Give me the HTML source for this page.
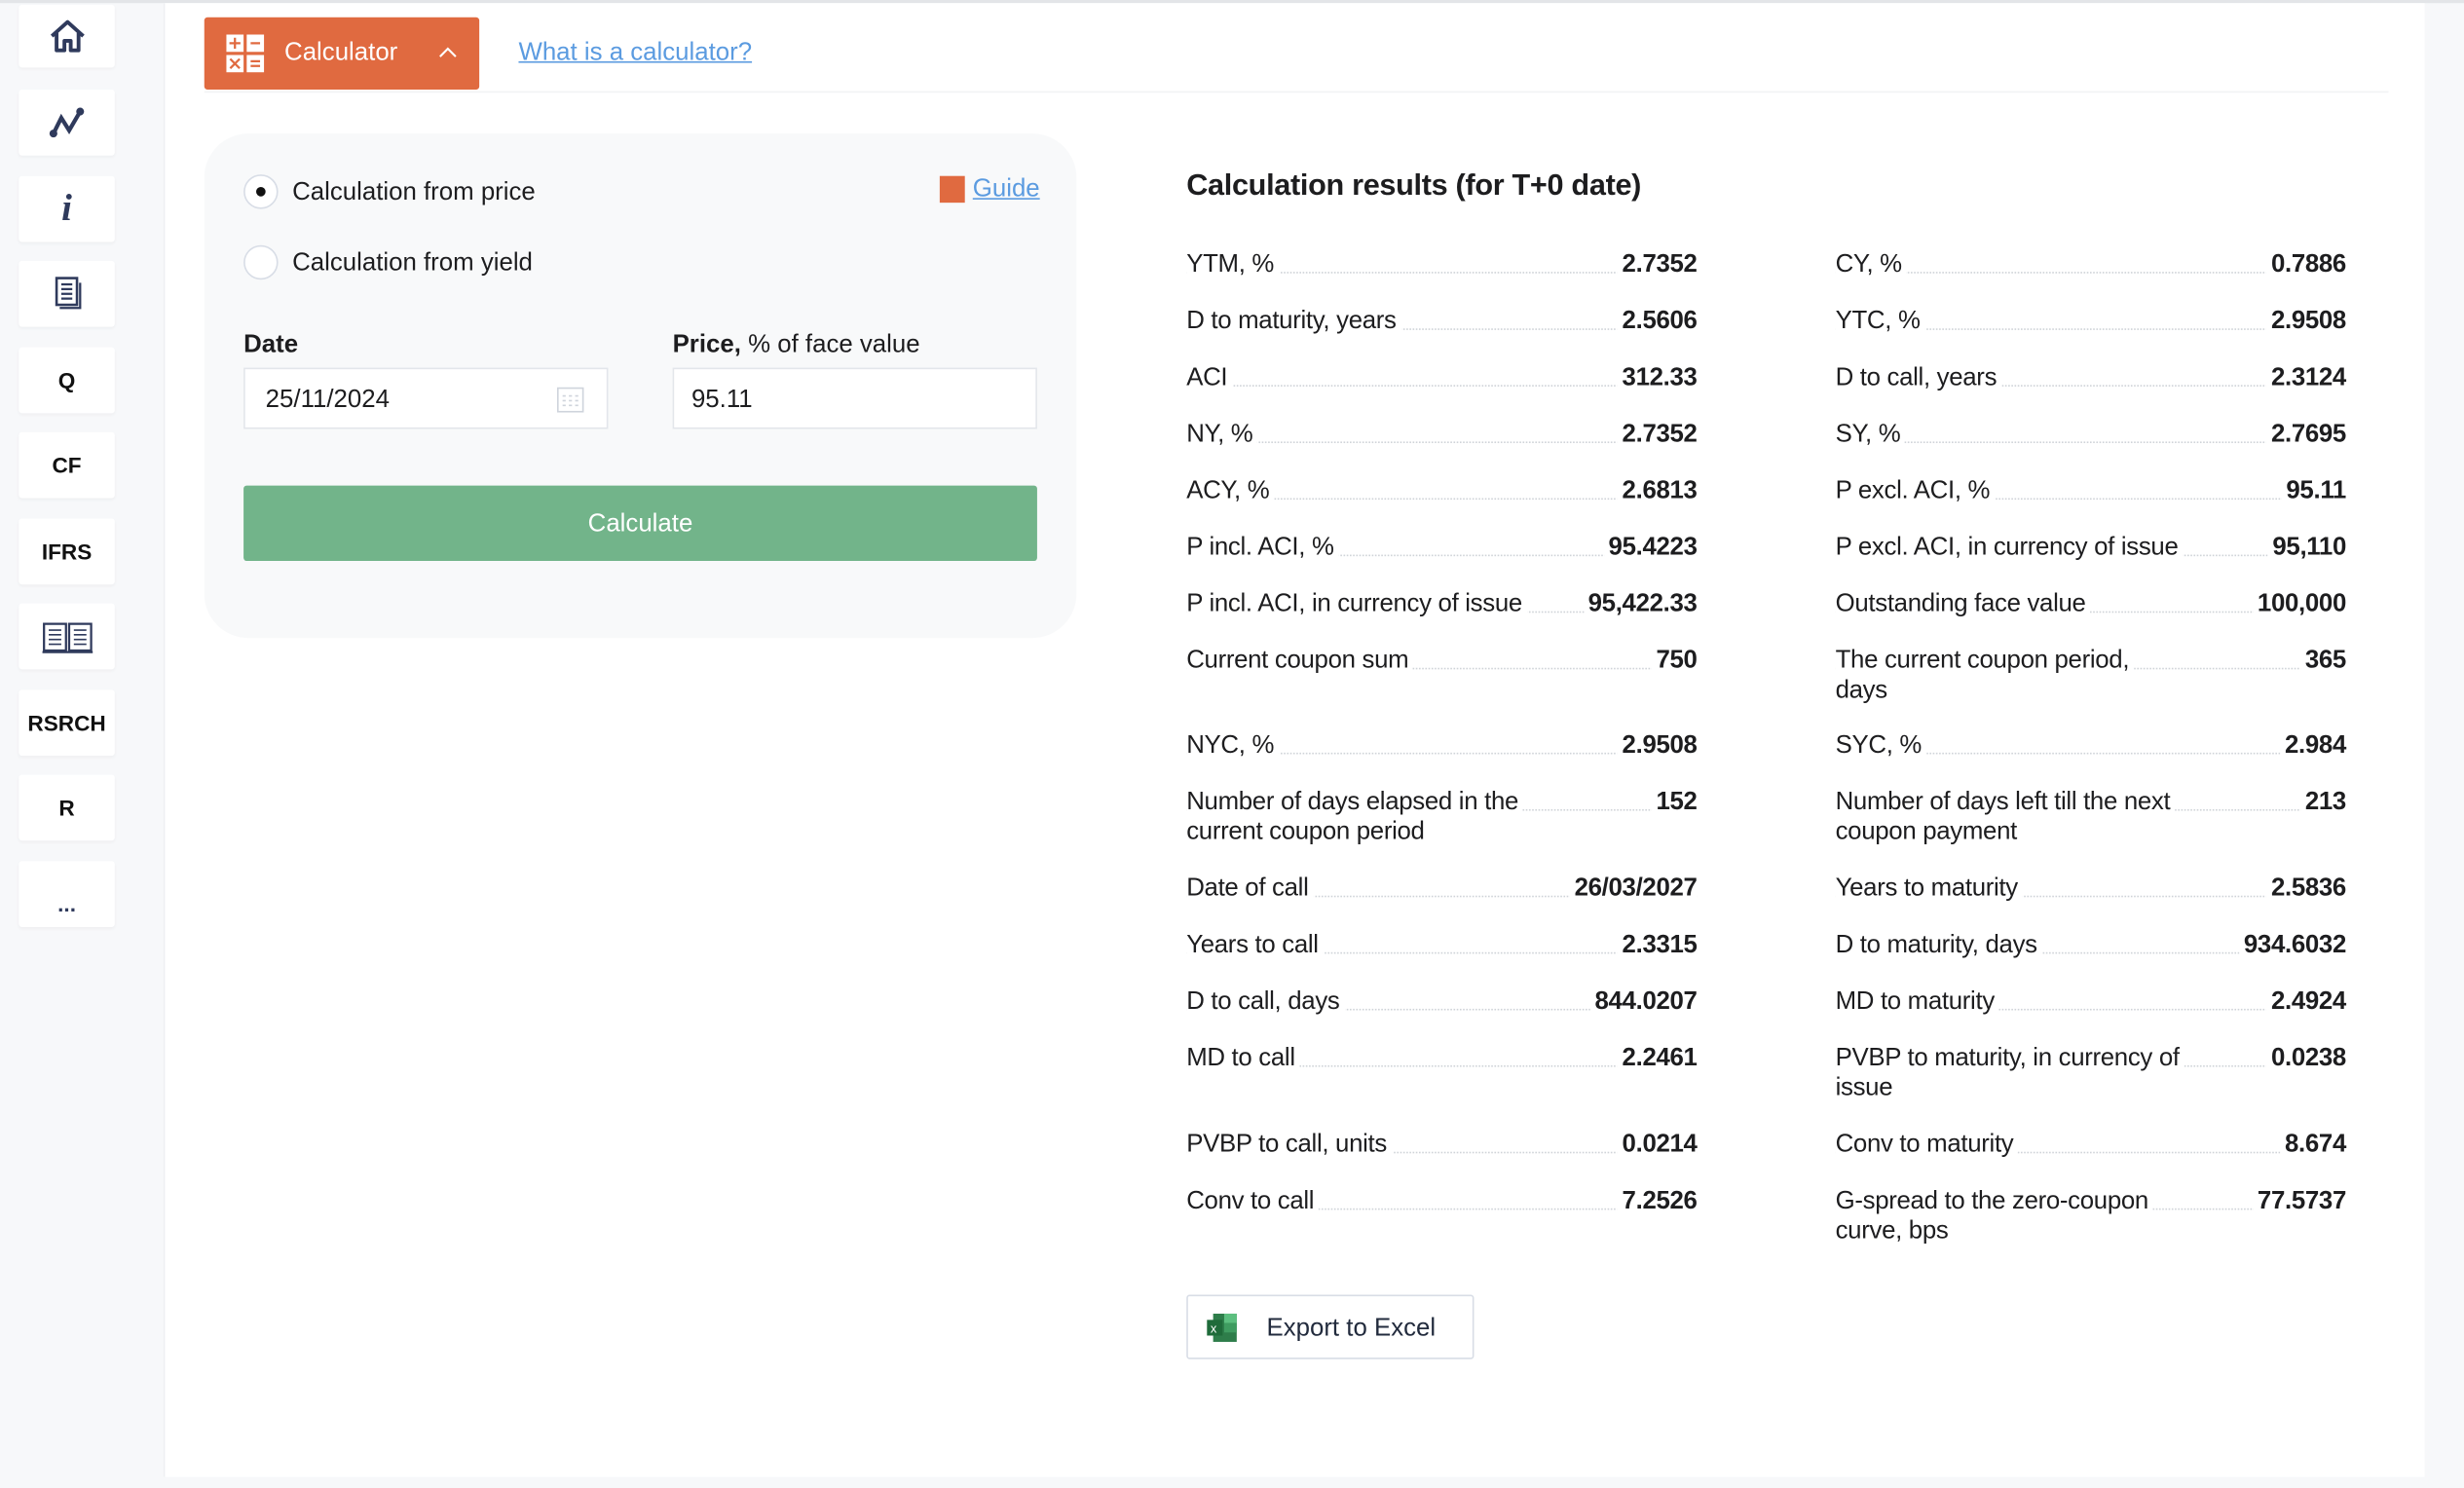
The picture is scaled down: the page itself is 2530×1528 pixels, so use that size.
<!DOCTYPE html>
<html><head><meta charset="utf-8">
<style>
html,body{margin:0;padding:0;width:2530px;height:1528px;overflow:hidden;background:#f7f8fa;}
#s{position:absolute;left:0;top:0;width:1568px;height:947px;transform:scale(1.61352);transform-origin:0 0;font-family:"Liberation Sans",sans-serif;color:#1d1d1f;}
.a{position:absolute}
.sb{position:absolute;left:12px;width:61px;height:42px;background:#fff;border-radius:2px;box-shadow:0 1px 2px rgba(0,0,0,.04);display:flex;align-items:center;justify-content:center;font-weight:bold;font-size:14px;color:#111;}
.row{position:absolute;width:325px;font-size:16px;line-height:19px;letter-spacing:-0.2px;}
.row .l{position:absolute;left:0;top:0;background:#fff;padding-right:3px;}
.row .v{position:absolute;right:0;top:0;font-weight:bold;background:#fff;padding-left:3px;}
.row .d{position:absolute;left:0;right:0;top:14px;border-bottom:1px dotted #cfd3d8;}
</style></head><body>
<div id="s">
<div class="a" style="left:0;top:0;width:1568px;height:2px;background:#e3e5e8"></div>
<div class="a" style="left:104px;top:2px;width:1439px;height:938px;background:#fff"></div>
<div class="a" style="left:104px;top:2px;width:1px;height:938px;background:#eef0f3"></div>

<div class="sb" style="top:3px;height:40px"><svg width="26" height="24" viewBox="0 0 26 24"><path d="M3 12 L13 3 L23 12 M6 10 V21 H11 V15 H15 V21 H20 V10" fill="none" stroke="#2f3a5c" stroke-width="2.4" stroke-linejoin="round"/></svg></div>
<div class="sb" style="top:57px"><svg width="26" height="24" viewBox="0 0 26 24"><path d="M4 19 L9 9 L14 17 L21 5" fill="none" stroke="#2f3a5c" stroke-width="2.6"/><circle cx="4" cy="19" r="2.5" fill="#2f3a5c"/><circle cx="21" cy="5" r="2.5" fill="#2f3a5c"/></svg></div>
<div class="sb" style="top:112px;font-family:'Liberation Serif',serif;font-size:24px;font-style:italic;color:#2f3a5c">i</div>
<div class="sb" style="top:166px"><svg width="20" height="24" viewBox="0 0 20 24"><rect x="3" y="2" width="13" height="17" fill="none" stroke="#2f3a5c" stroke-width="1.6"/><path d="M6 6h7M6 9h7M6 12h7M6 15h7M5 21h13V5" fill="none" stroke="#2f3a5c" stroke-width="1.4"/></svg></div>
<div class="sb" style="top:221px">Q</div>
<div class="sb" style="top:275px">CF</div>
<div class="sb" style="top:330px">IFRS</div>
<div class="sb" style="top:384px"><svg width="34" height="24" viewBox="0 0 34 24"><path d="M2 4h14v17H2zM18 4h14v17H18z M1 22h32" fill="none" stroke="#2f3a5c" stroke-width="1.4"/><path d="M5 8h8M5 11h8M5 14h8M5 17h8M21 8h8M21 11h8M21 14h8M21 17h8" stroke="#2f3a5c" stroke-width="1"/></svg></div>
<div class="sb" style="top:439px">RSRCH</div>
<div class="sb" style="top:493px">R</div>
<div class="sb" style="top:548px;color:#2f3a5c;padding-top:12px;box-sizing:border-box">...</div>

<div class="a" style="left:130px;top:11px;width:175px;height:46px;background:#e06a40;border-radius:2px;color:#fff;font-size:16px">
 <svg class="a" style="left:14px;top:11px" width="25" height="25" viewBox="0 0 25 25"><rect x="0" y="0" width="11" height="11" fill="#fff"/><rect x="13" y="0" width="11" height="11" fill="#fff"/><rect x="0" y="13" width="11" height="11" fill="#fff"/><rect x="13" y="13" width="11" height="11" fill="#fff"/><path d="M5.5 2v7M2 5.5h7M15.5 5.5h6M2.5 15.5l6 6M8.5 15.5l-6 6M15.5 17h6M15.5 20h6" stroke="#e06a40" stroke-width="1.4"/></svg>
 <span class="a" style="left:51px;top:14px">Calculator</span>
 <svg class="a" style="left:149px;top:18px" width="12" height="8" viewBox="0 0 12 8"><path d="M1 7L6 2L11 7" fill="none" stroke="#fff" stroke-width="1.3"/></svg>
</div>
<span class="a" style="left:330px;top:25px;font-size:16px;color:#5b9be0;text-decoration:underline">What is a calculator?</span>
<div class="a" style="left:130px;top:58px;width:1390px;height:1px;background:#f2f3f5"></div>

<div class="a" style="left:130px;top:85px;width:555px;height:321px;background:#f8f9fa;border-radius:28px"></div>
<div class="a" style="left:155px;top:111px;width:22px;height:22px;border:1px solid #d8dde6;border-radius:50%;background:#fff;box-sizing:border-box"><div class="a" style="left:7px;top:7px;width:6px;height:6px;border-radius:50%;background:#111"></div></div>
<span class="a" style="left:186px;top:114px;font-size:16px">Calculation from price</span>
<div class="a" style="left:155px;top:156px;width:22px;height:22px;border:1px solid #d8dde6;border-radius:50%;background:#fff;box-sizing:border-box"></div>
<span class="a" style="left:186px;top:159px;font-size:16px">Calculation from yield</span>
<div class="a" style="left:598px;top:112px;width:16px;height:17px;background:#e06a40"></div>
<span class="a" style="left:619px;top:112px;font-size:16px;color:#5b9be0;text-decoration:underline">Guide</span>
<span class="a" style="left:155px;top:211px;font-size:16px;font-weight:bold">Date</span>
<span class="a" style="left:428px;top:211px;font-size:16px"><b>Price,</b> % of face value</span>
<div class="a" style="left:155px;top:234px;width:232px;height:39px;background:#fff;border:1px solid #e3e6eb;box-sizing:border-box"><span class="a" style="left:13px;top:11px;font-size:16px">25/11/2024</span>
<svg class="a" style="left:198px;top:10px" width="18" height="18" viewBox="0 0 18 18"><rect x="1" y="2" width="16" height="15" fill="none" stroke="#cfd4dc"/><path d="M4 7h2M8 7h2M12 7h2M4 10h2M8 10h2M12 10h2M4 13h2M8 13h2M12 13h2" stroke="#cfd4dc"/></svg></div>
<div class="a" style="left:428px;top:234px;width:232px;height:39px;background:#fff;border:1px solid #e3e6eb;box-sizing:border-box"><span class="a" style="left:11px;top:11px;font-size:16px">95.11</span></div>
<div class="a" style="left:155px;top:309px;width:505px;height:48px;background:#72b48a;border-radius:2px;color:#fff;font-size:16px;text-align:center;line-height:50px">Calculate</div>

<span class="a" style="left:755px;top:108px;font-size:19px;font-weight:bold;letter-spacing:-0.2px">Calculation results (for T+0 date)</span>

<div id="rows"></div>

<div class="a" style="left:755px;top:824px;width:183px;height:41px;border:1px solid #d8dde6;border-radius:2px;box-sizing:border-box;background:#fff">
 <svg class="a" style="left:12px;top:11px" width="20" height="18" viewBox="0 0 20 18"><rect x="4" y="0" width="15" height="18" fill="#2e7d4a"/><rect x="11" y="0" width="8" height="6" fill="#5cbf7f"/><rect x="11" y="6" width="8" height="6" fill="#3f9c60"/><rect x="0" y="4" width="10" height="10" fill="#1f6b3a"/><text x="2.3" y="12" font-size="8" fill="#fff" font-family="Liberation Sans">x</text></svg>
 <span class="a" style="left:50px;top:12px;font-size:16px;color:#222b3d">Export to Excel</span>
</div>
</div>
<script>
const leftLabels=["YTM, %","D to maturity, years","ACI","NY, %","ACY, %","P incl. ACI, %","P incl. ACI, in currency of issue","Current coupon sum","NYC, %","Number of days elapsed in the<br>current coupon period","Date of call","Years to call","D to call, days","MD to call","PVBP to call, units","Conv to call"];
const leftValues=["2.7352","2.5606","312.33","2.7352","2.6813","95.4223","95,422.33","750","2.9508","152","26/03/2027","2.3315","844.0207","2.2461","0.0214","7.2526"];
const rightLabels=["CY, %","YTC, %","D to call, years","SY, %","P excl. ACI, %","P excl. ACI, in currency of issue","Outstanding face value","The current coupon period,<br>days","SYC, %","Number of days left till the next<br>coupon payment","Years to maturity","D to maturity, days","MD to maturity","PVBP to maturity, in currency of<br>issue","Conv to maturity","G-spread to the zero-coupon<br>curve, bps"];
const rightValues=["0.7886","2.9508","2.3124","2.7695","95.11","95,110","100,000","365","2.984","213","2.5836","934.6032","2.4924","0.0238","8.674","77.5737"];
const rowTops=[159,195,231,267,303,339,375,411,465,501,556,592,628,664,719,755];
const c=document.getElementById('rows');
function add(x,lab,val,t,side,i){
 const r=document.createElement('div');
 
 
 r.className='row';r.style.left=x+'px';r.style.top=t+'px';
 r.innerHTML='<div class="d"></div><span class="l">'+lab+'</span><span class="v">'+val+'</span>';
 c.parentNode.appendChild(r);
}
for(let i=0;i<16;i++){add(755,leftLabels[i],leftValues[i],rowTops[i],'left',i);add(1168,rightLabels[i],rightValues[i],rowTops[i],'right',i);}
</script>
</body></html>
